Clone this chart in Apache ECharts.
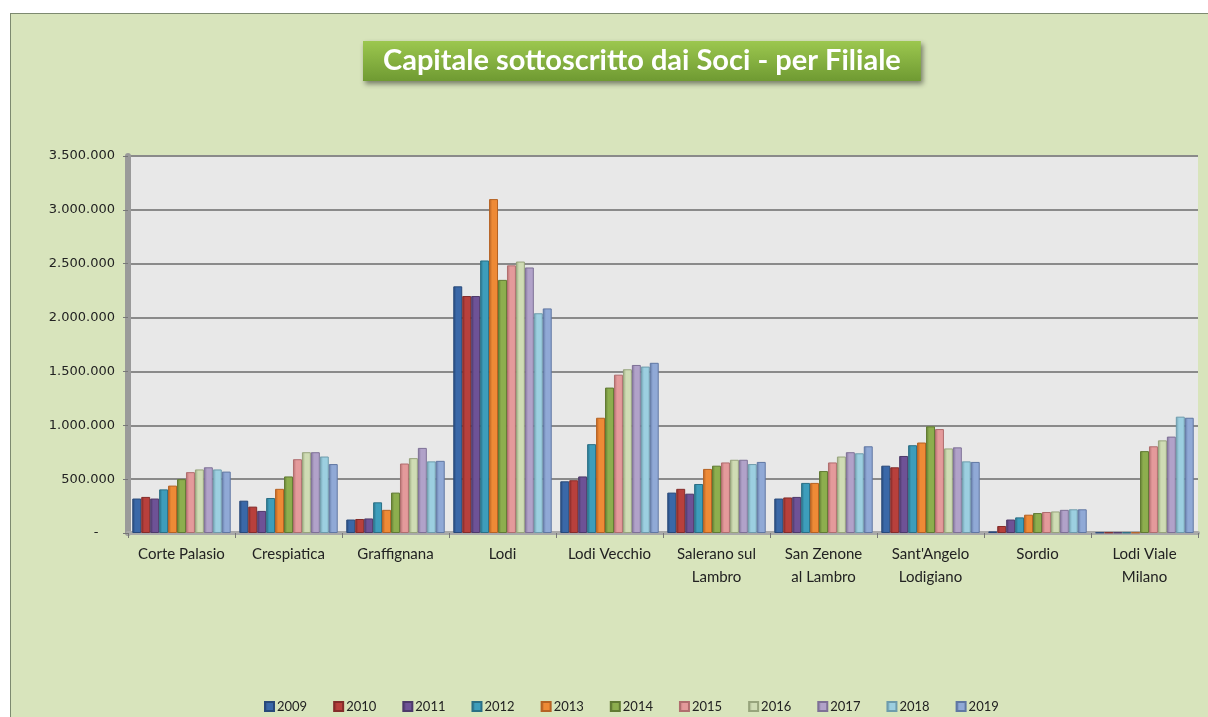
<!DOCTYPE html>
<html>
<head>
<meta charset="utf-8">
<script src="https://cdn.jsdelivr.net/npm/echarts@6/dist/echarts.min.js"></script>
<style>
  html, body { margin: 0; padding: 0; background: #fff; }
  .myEcharts {
    position: absolute;
    left: 10px;
    top: 13px;
    width: 1198px;
    height: 704px;
    background: #d8e4bc;
    border-left: 1px solid #7d8a70;
    border-top: 1px solid #7d8a70;
  }
</style>
</head>
<body>
<div class="myEcharts" id="myEcharts"></div>
<script>
// filiali
var filiali = ['Corte Palasio', 'Crespiatica', 'Graffignana', 'Lodi', 'Lodi Vecchio',
  'Salerano sul\nLambro', 'San Zenone\nal Lambro', "Sant'Angelo\nLodigiano", 'Sordio', 'Lodi Viale\nMilano'];
var anni = ['2009', '2010', '2011', '2012', '2013', '2014', '2015', '2016', '2017', '2018', '2019'];

// capitale per anno (stesso ordine delle filiali)
var cap2009 = [320000, 300000, 125000, 2290000, 480000, 375000, 320000, 625000, 15000, 5000];
var cap2010 = [335000, 245000, 130000, 2200000, 490000, 410000, 330000, 610000, 65000, 5000];
var cap2011 = [320000, 205000, 135000, 2200000, 525000, 365000, 335000, 715000, 125000, 5000];
var cap2012 = [405000, 325000, 285000, 2530000, 825000, 455000, 465000, 815000, 145000, 5000];
var cap2013 = [440000, 410000, 215000, 3100000, 1070000, 595000, 465000, 840000, 170000, 5000];
var cap2014 = [500000, 525000, 375000, 2350000, 1350000, 625000, 575000, 990000, 185000, 760000];
var cap2015 = [565000, 685000, 645000, 2485000, 1470000, 655000, 655000, 965000, 195000, 805000];
var cap2016 = [590000, 750000, 695000, 2520000, 1520000, 680000, 710000, 785000, 200000, 860000];
var cap2017 = [610000, 750000, 790000, 2465000, 1560000, 680000, 750000, 795000, 215000, 895000];
var cap2018 = [590000, 710000, 665000, 2040000, 1545000, 640000, 740000, 665000, 220000, 1080000];
var cap2019 = [570000, 640000, 670000, 2085000, 1580000, 660000, 805000, 660000, 220000, 1070000];
var valori = [cap2009, cap2010, cap2011, cap2012, cap2013, cap2014, cap2015, cap2016, cap2017, cap2018, cap2019];

// tick asse y
var yTicks = [0, 500000, 1000000, 1500000, 2000000, 2500000, 3000000, 3500000];

var colori = ['#3a68a8', '#b8403c', '#6e5296', '#3d9dbb', '#ee8a36', '#8dae4e',
  '#e49a9b', '#cfdcb4', '#b1a2c9', '#9ccfe0', '#90a9d6'];
var bordi = ['#28497a', '#842c2a', '#4d396a', '#2a6f85', '#b56223', '#617a33',
  '#b06d6e', '#97a47c', '#7e7096', '#6e9cac', '#6077a3'];

function formatIt(v) {
  if (v === 0) return '-    ';
  return String(v).replace(/\B(?=(\d{3})+(?!\d))/g, '.');
}

var series = anni.map(function (anno, i) {
  return {
    name: anno,
    type: 'bar',
    barGap: '0%',
    barCategoryGap: '8%',
    data: valori[i],
    itemStyle: {
      color: new echarts.graphic.LinearGradient(0, 0, 1, 0, [
        { offset: 0, color: bordi[i] },
        { offset: 0.35, color: colori[i] },
        { offset: 1, color: colori[i] }
      ]),
      borderColor: bordi[i],
      borderWidth: 1
    }
  };
});

var myChart = echarts.init(document.getElementById('myEcharts'));
myChart.setOption({
  animation: false,
  color: colori,
  title: {
    text: 'Capitale sottoscritto dai Soci - per Filiale',
    left: 352,
    top: 27,
    padding: [3, 20, 4, 20],
    backgroundColor: new echarts.graphic.LinearGradient(0, 0, 0, 1, [
      { offset: 0, color: '#9cc74f' },
      { offset: 1, color: '#6f9a32' }
    ]),
    shadowBlur: 5,
    shadowColor: 'rgba(0,0,0,0.45)',
    shadowOffsetX: 2,
    shadowOffsetY: 3,
    textStyle: {
      color: '#ffffff',
      fontFamily: 'Lato',
      fontWeight: 'bold',
      fontSize: 29,
      lineHeight: 33
    }
  },
  legend: {
    data: anni,
    left: 248,
    top: 681,
    itemWidth: 9,
    itemHeight: 9,
    itemGap: 26,
    icon: 'rect',
    textStyle: { fontFamily: 'Lato', fontSize: 13, color: '#222', padding: [0, 0, 0, -2] }
  },
  grid: {
    left: 117,
    right: 11,
    top: 142,
    bottom: 185,
    show: true,
    backgroundColor: '#e8e8e8',
    borderWidth: 0
  },
  xAxis: {
    type: 'category',
    data: filiali,
    axisLine: { lineStyle: { color: '#a9a9a9', width: 4 } },
    axisTick: { show: true, length: 5, lineStyle: { color: '#777' } },
    axisLabel: {
      fontFamily: 'Lato',
      fontSize: 15,
      color: '#222',
      lineHeight: 23,
      margin: 10,
      interval: 0
    }
  },
  yAxis: {
    type: 'value',
    min: 0,
    max: 3500000,
    interval: 500000,
    axisLine: { show: true, lineStyle: { color: '#9a9a9a', width: 6 } },
    axisTick: { show: true, length: 5, lineStyle: { color: '#777' } },
    splitLine: { lineStyle: { color: '#8a8a8a', width: 2 } },
    axisLabel: {
      fontFamily: 'DejaVu Sans',
      fontSize: 13,
      color: '#222',
      margin: 13,
      formatter: function (v) { return yTicks.indexOf(v) >= 0 ? formatIt(v) : ''; }
    }
  },
  series: series
});
</script>
</body>
</html>
